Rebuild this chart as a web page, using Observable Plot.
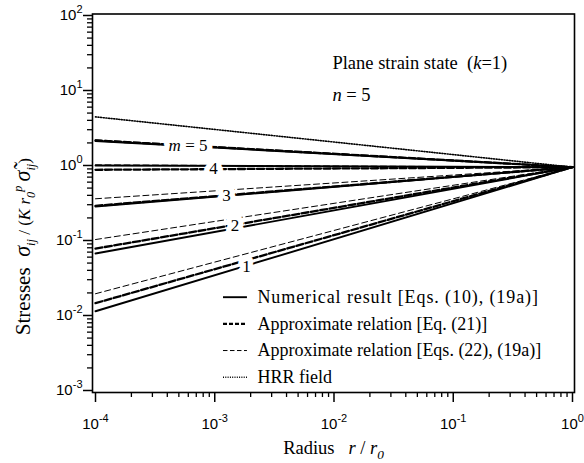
<!DOCTYPE html>
<html><head><meta charset="utf-8">
<script src="https://cdn.jsdelivr.net/npm/d3@7"></script>
<script src="https://cdn.jsdelivr.net/npm/@observablehq/plot@0.6"></script>
<style>body{margin:0;background:#fff} svg text{white-space:pre}</style>
</head><body><div id="chart"></div>
<script>
// ---- data (log-log straight lines, r/r0 from 1e-4 to 1) ----
const radiusEnds = [1e-4, 1];
const mValues = [1, 2, 3, 4, 5];
const lineLabels = ["1", "2", "3", "4", "*m* = 5"];
const numericalStart = [0.0114, 0.067, 0.284, 1.0, 2.12];   // solid, value at r/r0 = 1e-4
const approx21Start  = [0.0146, 0.078, 0.29, 0.876, 2.16];  // thick dashed
const approx22Start  = [0.0195, 0.103, 0.36, 1.02, 2.2];    // thin dashed
const hrrStart = 4.45;                                      // dotted
const endValue = 0.95;                                      // common value at r/r0 = 1
const xMajor = [1e-4, 1e-3, 1e-2, 1e-1, 1];
const yMajor = [1e-3, 1e-2, 1e-1, 1, 10, 100];
const legendLabels = ["Numerical result [Eqs. (10), (19a)]", "Approximate relation [Eq. (21)]",
                      "Approximate relation [Eqs. (22), (19a)]", "HRR field"];
const legendKinds = ["num", "eq21", "eq22", "hrr"];
const noteLines = ["Plane strain state\u00A0\u00A0(*k*=1)", "*n* = 5"];

// ---- build tables ----
function series(starts, method) {
  return starts.flatMap((s, i) => [
    {m: mValues[i], method, r: radiusEnds[0], v: s},
    {m: mValues[i], method, r: radiusEnds[1], v: endValue}
  ]);
}
const rows = [...series(approx22Start, "eq22"), ...series(approx21Start, "eq21"), ...series(numericalStart, "num")];
const hrr = [{r: radiusEnds[0], v: hrrStart}, {r: radiusEnds[1], v: endValue}];

const styles = {
  num:  {strokeWidth: 1.9},
  eq21: {strokeWidth: 2.3, strokeDasharray: "7,2.5"},
  eq22: {strokeWidth: 1, strokeDasharray: "6,3.5"},
  hrr:  {strokeWidth: 1.6, strokeDasharray: "1,1.6"}
};
const legendDash = {num: null, eq21: "4,2", eq22: "4.5,2.5", hrr: "1,1.3"};

const serif = "'Liberation Serif', 'Times New Roman', serif";
const sans = "'Liberation Sans', Arial, sans-serif";
const minorTicks = (lo, hi) => d3.range(lo, hi).flatMap(k => d3.range(2, 10).map(j => j * 10 ** k));
const sup = d => "10^" + Math.round(Math.log10(d));

// annotation positions (data coordinates)
const lineLabelData = lineLabels.map((t, i) => ({t, r: [1.845e-3, 1.479e-3, 1.255e-3, 9.76e-4, 5.97e-4][i], v: [0.045, 0.158, 0.398, 0.898, 1.82][i]}));
const legendRows = legendLabels.map((label, i) => ({label, kind: legendKinds[i], v: 0.01754 * 10 ** (-0.3556 * i)}));
const notes = noteLines.map((t, i) => ({t, v: [23.3, 8.8][i]}));

const textLabel = (opts) => [
  Plot.text(lineLabelData, {x: "r", y: "v", text: "t", fontFamily: serif, fontSize: 17, fill: "white", stroke: "white", strokeWidth: 11, ...opts}),
  Plot.text(lineLabelData, {x: "r", y: "v", text: "t", fontFamily: serif, fontSize: 17, fill: "black", ...opts})
];

const plot = Plot.plot({
  width: 584, height: 463,
  marginLeft: 92, marginRight: 10, marginTop: 13.5, marginBottom: 71,
  style: {fontFamily: sans, fontSize: "15px", color: "black", background: "white"},
  x: {type: "log", domain: [9.437e-5, 1.0394]},
  y: {type: "log", domain: [9.404e-4, 104.7]},
  marks: [
    Plot.axisX({ticks: minorTicks(-4, 0), tickSize: 5, tickFormat: () => "", label: null, strokeWidth: 1.3}),
    Plot.axisX({ticks: xMajor, tickSize: 10, tickPadding: 16, tickFormat: sup, label: null, strokeWidth: 1.5, fontSize: 15}),
    Plot.axisY({ticks: minorTicks(-3, 2), tickSize: 5, tickFormat: () => "", label: null, strokeWidth: 1.3}),
    Plot.axisY({ticks: yMajor, tickSize: 9, tickPadding: 1, tickFormat: sup, label: null, strokeWidth: 1.5, fontSize: 15}),
    Plot.line(hrr, {x: "r", y: "v", stroke: "black", ...styles.hrr}),
    ...["eq22", "eq21", "num"].map(k => Plot.line(rows.filter(d => d.method === k), {x: "r", y: "v", z: "m", stroke: "black", ...styles[k]})),
    ...textLabel({}),
    Plot.text(notes, {x: 0.0097, y: "v", text: "t", textAnchor: "start", fontFamily: serif, fontSize: 18.5}),
    ...legendKinds.map(k => Plot.ruleY(legendRows.filter(d => d.kind === k), {y: "v", x1: 1.184e-3, x2: 1.88e-3, stroke: "black",
        strokeWidth: styles[k].strokeWidth, strokeDasharray: legendDash[k]})),
    Plot.text(legendRows, {x: 2.28e-3, y: "v", text: "label", textAnchor: "start", fontFamily: serif, fontSize: 18}),
    Plot.text(["Stresses\u00A0\u00A0σij / (K r0p σ̃ij)"], {frameAnchor: "left", dx: -68, dy: 132, rotate: -90, textAnchor: "start", fontFamily: serif, fontSize: 17, lineAnchor: "middle"}),
    Plot.text(["Radius\u00A0\u00A0\u00A0r / r0"], {frameAnchor: "bottom", dy: 61, lineAnchor: "bottom", fontFamily: serif, fontSize: 18.5}),
    Plot.frame({stroke: "black", strokeWidth: 1.6})
  ]
});

// ---- rich text (italics, sub/superscripts) ----
function rich(el, parts, base) {
  el.textContent = "";
  let shift = 0;
  for (const [txt, style] of parts) {
    const st = style.split(" ");
    const t = d3.select(el).append("tspan").text(txt);
    let target = 0, size = base;
    if (st.includes("sub")) { target = 0.3 * base; size = 0.72 * base; }
    if (st.includes("sup")) { target = -0.45 * base; size = 0.72 * base; }
    if (st.includes("big")) size = 1.3 * base;
    if (st.includes("word")) size = 1.24 * base;
    if (st.includes("i")) t.attr("font-style", "italic");
    t.attr("font-size", size);
    if (target !== shift) { t.attr("dy", target - shift); shift = target; }
  }
}
const yParts = [["Stresses\u00A0\u00A0", "word"], ["σ", "big i"], ["ij", "sub i"], ["\u00A0/ (", ""], ["K", "i"], ["\u00A0", ""], ["r", "i"], ["0", "sub i"], ["p", "sup i"], ["\u00A0", ""], ["σ̃", "big i"], ["ij", "sub i"], [")", ""]];
const xParts = [["Radius\u00A0\u00A0\u00A0", ""], ["r", "i"], ["\u00A0/\u00A0", ""], ["r", "i"], ["0", "sub i"]];
d3.select(plot).selectAll("text").each(function () {
  const s = this.textContent;
  if (s.startsWith("Stresses")) rich(this, yParts, 17);
  else if (s.startsWith("Radius")) rich(this, xParts, 18.5);
  else if (s.startsWith("Numerical")) this.style.letterSpacing = "0.9px";
  else if (s.includes("^")) {
    const [b, e] = s.split("^");
    this.textContent = "";
    d3.select(this).append("tspan").text(b);
    d3.select(this).append("tspan").attr("dy", -7.5).attr("font-size", 11).text(e);
  } else if (s.includes("*")) {
    const fs = +(this.getAttribute("font-size") || this.parentNode.getAttribute("font-size") || 16);
    rich(this, s.split("*").map((p, i) => [p, i % 2 ? "i" : ""]).filter(p => p[0] !== ""), fs);
  }
});
document.getElementById("chart").append(plot);
</script></body></html>
